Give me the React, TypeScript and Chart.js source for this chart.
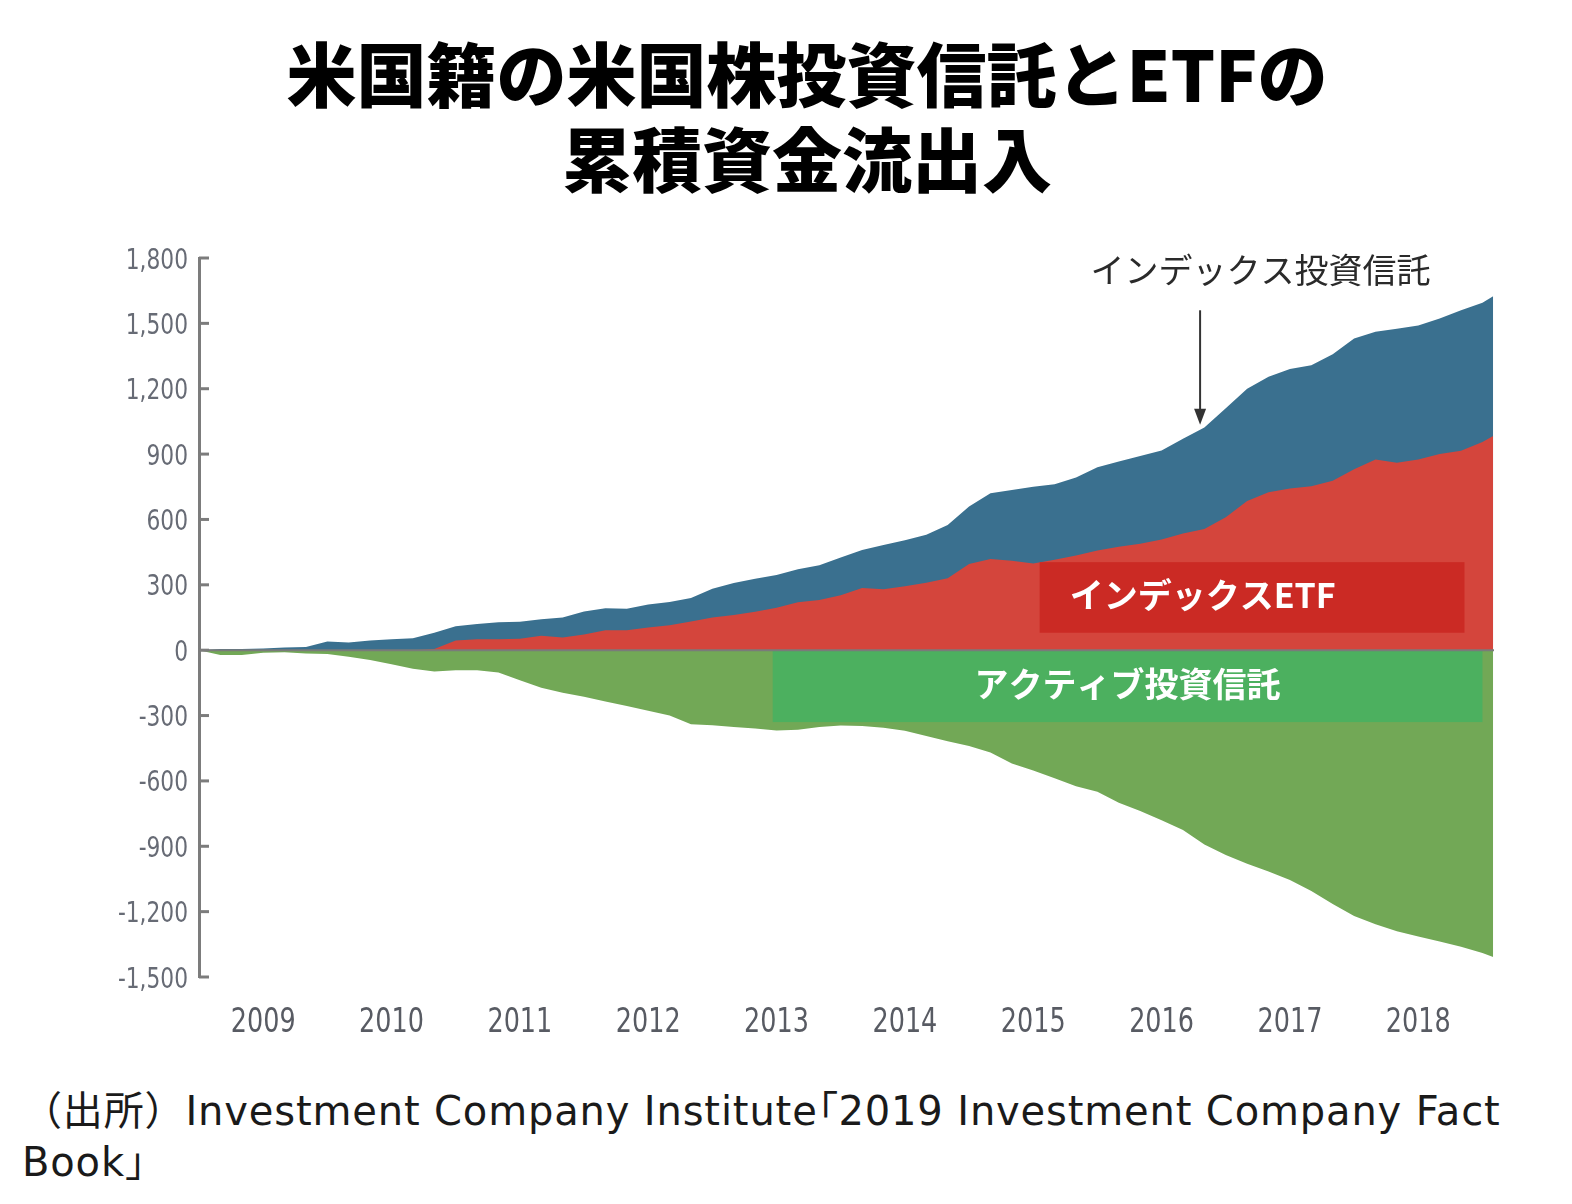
import React, { useEffect, useRef } from 'react';
import { Chart, registerables } from 'chart.js';

Chart.register(...registerables);

// ---- data (cumulative flows, billions USD) ----
const months = [
  '2009-01', '2009-03', '2009-05', '2009-07', '2009-09', '2009-11',
  '2010-01', '2010-03', '2010-05', '2010-07', '2010-09', '2010-11',
  '2011-01', '2011-03', '2011-05', '2011-07', '2011-09', '2011-11',
  '2012-01', '2012-03', '2012-05', '2012-07', '2012-09', '2012-11',
  '2013-01', '2013-03', '2013-05', '2013-07', '2013-09', '2013-11',
  '2014-01', '2014-03', '2014-05', '2014-07', '2014-09', '2014-11',
  '2015-01', '2015-03', '2015-05', '2015-07', '2015-09', '2015-11',
  '2016-01', '2016-03', '2016-05', '2016-07', '2016-09', '2016-11',
  '2017-01', '2017-03', '2017-05', '2017-07', '2017-09', '2017-11',
  '2018-01', '2018-03', '2018-05', '2018-07', '2018-09', '2018-11',
  '2019-01', '2019-02',
];

const indexEtf = [
  0, 0, 0, 0, 0, 0,
  0, 0, 0, 0, 0, 5,
  45, 50, 50, 52, 66, 58,
  72, 92, 92, 104, 115, 132,
  150, 162, 176, 195, 220, 230,
  252, 285, 280, 293, 310, 330,
  395, 418, 410, 398, 415, 435,
  458, 475, 489, 508, 535, 556,
  610, 685, 725, 742, 752, 778,
  830, 875, 860, 875, 900, 915,
  955, 983,
];

const indexFunds = [
  0, 5, 5, 8, 12, 15,
  40, 35, 45, 50, 55, 75,
  65, 70, 78, 78, 76, 92,
  106, 100, 98, 106, 106, 108,
  132, 146, 152, 150, 152, 160,
  173, 175, 203, 212, 220, 245,
  265, 302, 325, 352, 347, 357,
  382, 391, 402, 408, 435, 466,
  500, 515, 530, 548, 556, 580,
  600, 587, 615, 615, 622, 645,
  640, 642,
];

const activeFunds = [
  0, -22, -22, -12, -9, -15,
  -18, -30, -45, -65, -85, -98,
  -92, -92, -102, -138, -172, -195,
  -214, -236, -256, -278, -300, -340,
  -345, -352, -360, -369, -365, -352,
  -346, -348, -356, -370, -394, -418,
  -440, -470, -520, -552, -588, -625,
  -650, -700, -738, -780, -825, -892,
  -940, -980, -1016, -1055, -1105, -1165,
  -1220, -1258, -1290, -1314, -1337, -1361,
  -1390, -1408,
];

const yearLabels = ['2009', '2010', '2011', '2012', '2013', '2014', '2015', '2016', '2017', '2018'];

const titleLines = ['米国籍の米国株投資信託とETFの', '累積資金流出入'];
const sourceLines = ['（出所）Investment Company Institute「2019 Investment Company Fact', 'Book」'];

const etfLabel = 'インデックスETF';
const activeLabel = 'アクティブ投資信託';
const indexFundLabel = 'インデックス投資信託';

// label boxes in data coordinates
const etfBox = { x0: 2015.55, x1: 2018.86, y0: 404, y1: 80 };
const activeBox = { x0: 2013.47, x1: 2019.0, y0: 0, y1: -330 };
const arrowSpec = { x: 2016.8, yFrom: 1560, yTo: 1035, textX: 2017.27, textY: 1744 };

const BLUE = '#3a708f';
const RED = '#d4453c';
const GREEN = '#72a856';
const RED_BOX = '#cb2a24';
const GREEN_BOX = '#4cb05f';
const AXIS = '#7c7c7c';

const toYear = (m: string) => {
  const [y, mo] = m.split('-').map(Number);
  return y + (mo - 1) / 12;
};

const CANVAS_TOP = 230;
const CANVAS_W = 1572;
const CANVAS_H = 830;
const TICK_FONT = "'DejaVu Sans', 'Liberation Sans', sans-serif";
const SQUEEZE = 0.75;

const overlayPlugin = {
  id: 'overlay',
  afterDatasetsDraw(chart: any) {
    const { ctx, chartArea, scales } = chart;
    const x = scales.x;
    const y = scales.y;
    ctx.save();
    const cjk = "'Noto Sans CJK JP', sans-serif";

    // ETF label box
    {
      const l = x.getPixelForValue(etfBox.x0);
      const r = x.getPixelForValue(etfBox.x1);
      const t = y.getPixelForValue(etfBox.y0);
      const b = y.getPixelForValue(etfBox.y1);
      ctx.fillStyle = RED_BOX;
      ctx.fillRect(l, t, r - l, b - t);
      ctx.fillStyle = '#ffffff';
      ctx.font = `bold 34px ${cjk}`;
      ctx.textAlign = 'left';
      ctx.textBaseline = 'middle';
      ctx.fillText(etfLabel, l + 30, (t + b) / 2 - 2);
    }
    // Active label box
    {
      const l = x.getPixelForValue(activeBox.x0);
      const r = x.getPixelForValue(activeBox.x1);
      const t = y.getPixelForValue(activeBox.y0);
      const b = y.getPixelForValue(activeBox.y1);
      ctx.fillStyle = GREEN_BOX;
      ctx.fillRect(l, t, r - l, b - t);
      ctx.fillStyle = '#ffffff';
      ctx.font = `bold 34px ${cjk}`;
      ctx.textAlign = 'center';
      ctx.textBaseline = 'middle';
      ctx.fillText(activeLabel, (l + r) / 2, (t + b) / 2 - 2);
    }

    // zero line
    const y0 = y.getPixelForValue(0);
    ctx.strokeStyle = '#7a7a7a';
    ctx.lineWidth = 2;
    ctx.beginPath();
    ctx.moveTo(chartArea.left, y0);
    ctx.lineTo(chartArea.right, y0);
    ctx.stroke();

    // annotation arrow + text
    const ax = x.getPixelForValue(arrowSpec.x);
    const ay0 = y.getPixelForValue(arrowSpec.yFrom);
    const ay1 = y.getPixelForValue(arrowSpec.yTo);
    ctx.strokeStyle = '#333333';
    ctx.lineWidth = 2;
    ctx.beginPath();
    ctx.moveTo(ax, ay0);
    ctx.lineTo(ax, ay1 - 12);
    ctx.stroke();
    ctx.fillStyle = '#333333';
    ctx.beginPath();
    ctx.moveTo(ax - 6, ay1 - 16);
    ctx.lineTo(ax + 6, ay1 - 16);
    ctx.lineTo(ax, ay1);
    ctx.closePath();
    ctx.fill();

    ctx.fillStyle = '#2a2a2a';
    ctx.font = `34px ${cjk}`;
    ctx.textAlign = 'center';
    ctx.textBaseline = 'middle';
    ctx.fillText(indexFundLabel, x.getPixelForValue(arrowSpec.textX), y.getPixelForValue(arrowSpec.textY));

    // inward y tick marks
    ctx.strokeStyle = AXIS;
    ctx.lineWidth = 3;
    for (const t of y.ticks) {
      const py = y.getPixelForValue(t.value);
      ctx.beginPath();
      ctx.moveTo(chartArea.left, py);
      ctx.lineTo(chartArea.left + 10, py);
      ctx.stroke();
    }

    // y tick labels (condensed)
    ctx.fillStyle = '#676b75';
    ctx.font = `29px ${TICK_FONT}`;
    ctx.textAlign = 'right';
    ctx.textBaseline = 'alphabetic';
    for (const t of y.ticks) {
      const py = y.getPixelForValue(t.value);
      ctx.save();
      ctx.translate(chartArea.left - 11, py + 10.5);
      ctx.scale(SQUEEZE, 1);
      ctx.fillText(Number(t.value).toLocaleString('en-US'), 0, 0);
      ctx.restore();
    }

    // x tick labels (condensed)
    ctx.fillStyle = '#585b63';
    ctx.font = `34px ${TICK_FONT}`;
    ctx.textAlign = 'center';
    ctx.textBaseline = 'alphabetic';
    x.ticks.forEach((t: any, i: number) => {
      const px = x.getPixelForValue(t.value);
      ctx.save();
      ctx.translate(px, chartArea.bottom + 55);
      ctx.scale(SQUEEZE, 1);
      ctx.fillText(yearLabels[i], 0, 0);
      ctx.restore();
    });
    ctx.restore();
  },
};

function SourceLine({ text }: { text: string }) {
  const parts = text.split(/(「)/);
  return (
    <>
      {parts.map((p, i) =>
        p === '「' ? (
          <span key={i} style={{ fontFeatureSettings: '"palt" 1' }}>
            {p}
          </span>
        ) : (
          <span key={i}>{p}</span>
        ),
      )}
    </>
  );
}

export default function App() {
  const canvasRef = useRef<HTMLCanvasElement | null>(null);

  useEffect(() => {
    if (!canvasRef.current) return;
    const xs = months.map(toYear);
    const mk = (arr: number[]) => arr.map((v, i) => ({ x: xs[i], y: v }));
    const ds = (label: string, arr: number[], color: string) => ({
      label,
      data: mk(arr),
      backgroundColor: color,
      borderColor: 'rgba(0,0,0,0)',
      borderWidth: 0,
      pointRadius: 0,
      fill: 'origin',
      tension: 0,
    });
    const chart = new Chart(canvasRef.current, {
      type: 'line',
      data: {
        datasets: [
          ds('インデックスETF', indexEtf, RED),
          ds('インデックス投資信託', indexFunds, BLUE),
          ds('アクティブ投資信託', activeFunds, GREEN),
        ],
      },
      options: {
        responsive: false,
        animation: false,
        events: [],
        layout: { padding: { top: 28, right: 78, left: 0, bottom: 0 } },
        plugins: {
          legend: { display: false },
          tooltip: { enabled: false },
          title: { display: false },
        },
        scales: {
          x: {
            type: 'linear',
            min: 2009,
            max: 2019.09,
            grid: { display: false },
            border: { display: false },
            afterBuildTicks: (s: any) => {
              s.ticks = yearLabels.map((l) => ({ value: Number(l) + 0.5 }));
            },
            afterFit: (s: any) => {
              s.height = CANVAS_H - (977 - CANVAS_TOP);
            },
            ticks: { display: false, autoSkip: false, maxRotation: 0 },
          },
          y: {
            stacked: true,
            min: -1500,
            max: 1800,
            grid: { display: false },
            border: { display: true, color: AXIS, width: 3 },
            afterFit: (s: any) => {
              s.width = 199;
            },
            ticks: { display: false, stepSize: 300 },
          },
        },
      },
      plugins: [overlayPlugin],
    });
    return () => chart.destroy();
  }, []);

  return (
    <div style={{ position: 'absolute', left: 0, top: 0, width: CANVAS_W, height: 1204, background: '#fff', overflow: 'hidden' }}>
      <div
        style={{
          position: 'absolute',
          left: 57,
          top: 29,
          width: 1500,
          textAlign: 'center',
          fontFamily: "'Noto Sans CJK JP', sans-serif",
          fontWeight: 900,
          fontSize: 70,
          lineHeight: '85px',
          color: '#000',
        }}
      >
        {titleLines.map((t) => (
          <div key={t}>{t}</div>
        ))}
      </div>
      <canvas
        ref={canvasRef}
        width={CANVAS_W}
        height={CANVAS_H}
        style={{ position: 'absolute', left: 0, top: CANVAS_TOP, width: CANVAS_W, height: CANVAS_H }}
      />
      {sourceLines.map((t, i) => (
        <div
          key={t}
          style={{
            position: 'absolute',
            left: 22,
            top: 1086 + i * 51,
            whiteSpace: 'nowrap',
            fontFamily: "'DejaVu Sans', 'Noto Sans CJK JP', sans-serif",
            fontSize: 40,
            letterSpacing: '0.85px',
            lineHeight: '51px',
            color: '#1a1a1a',
          }}
        >
          <SourceLine text={t} />
        </div>
      ))}
    </div>
  );
}
